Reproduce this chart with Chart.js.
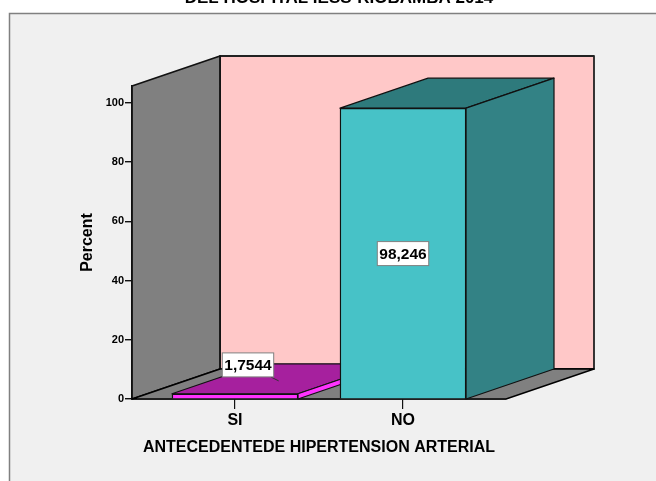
<!DOCTYPE html>
<html><head><meta charset="utf-8">
<style>html,body{margin:0;padding:0;background:#fff}canvas{display:block}</style>
<script src="https://cdn.jsdelivr.net/npm/chart.js@4"></script></head>
<body><div style="width:656px;height:481px"><canvas id="c" width="656" height="481"></canvas></div>
<script>
const categories = ['SI', 'NO'];
const percents = [1.7544, 98.246];
const valueLabels = ['1,7544', '98,246'];
const yTicks = [0, 20, 40, 60, 80, 100];
const chartTitle = 'DEL HOSPITAL IESS-RIOBAMBA 2014';
const yTitle = 'Percent';
const xTitle = 'ANTECEDENTEDE HIPERTENSION ARTERIAL';

const FONT = '"Liberation Sans", Arial, sans-serif';
const DX = 88, DY = -30;
const frontColors = ['#ff33ff', '#47c2c7'];
const topColors = ['#a6209e', '#2e7a7c'];
const sideColors = ['#ff33ff', '#338285'];
const labelOffsets = [[13, -31.5], [0, 0]];

function poly(ctx, pts, fill, stroke, lw) {
  ctx.beginPath();
  pts.forEach((p, i) => i ? ctx.lineTo(p[0], p[1]) : ctx.moveTo(p[0], p[1]));
  ctx.closePath();
  ctx.fillStyle = fill; ctx.fill();
  ctx.strokeStyle = stroke; ctx.lineWidth = lw; ctx.stroke();
}

const scene = {
  id: 'scene',
  afterLayout(chart) {
    chart.titleBlock.left = 0; chart.titleBlock.right = 678;
  },
  beforeDraw(chart) {
    const ctx = chart.ctx; ctx.save();
    ctx.fillStyle = '#f0f0f0'; ctx.fillRect(9, 13, 647, 468);
    ctx.strokeStyle = '#808080'; ctx.lineWidth = 1.5;
    ctx.beginPath(); ctx.moveTo(9.5, 481); ctx.lineTo(9.5, 13.5); ctx.lineTo(656, 13.5); ctx.stroke();
    ctx.restore();
  },
  beforeDatasetsDraw(chart) {
    const ctx = chart.ctx, a = chart.chartArea, ys = chart.scales.y;
    ctx.save(); ctx.lineJoin = 'round';
    const L = a.left, R = a.right, T = a.top, B = a.bottom;
    poly(ctx, [[L + DX, T + DY], [R + DX, T + DY], [R + DX, B + DY], [L + DX, B + DY]], '#ffc8c8', '#222', 1.8);
    poly(ctx, [[L, T], [L + DX, T + DY], [L + DX, B + DY], [L, B]], '#808080', '#111', 1.8);
    poly(ctx, [[L, B], [L + DX, B + DY], [R + DX, B + DY], [R, B]], '#808080', '#000', 1.4);
    chart.getDatasetMeta(0).data.forEach((bar, i) => {
      const x0 = bar.x - bar.width / 2, x1 = bar.x + bar.width / 2, y = bar.y, b = ys.getPixelForValue(0);
      poly(ctx, [[x0, y], [x0 + DX, y + DY], [x1 + DX, y + DY], [x1, y]], topColors[i], '#111', 1.2);
      poly(ctx, [[x1, y], [x1 + DX, y + DY], [x1 + DX, b + DY], [x1, b]], sideColors[i], '#111', 1.2);
    });
    ctx.restore();
  },
  afterDatasetsDraw(chart) {
    const ctx = chart.ctx, ys = chart.scales.y;
    ctx.save();
    ctx.font = 'bold 15.5px ' + FONT; ctx.textAlign = 'center'; ctx.textBaseline = 'middle';
    chart.getDatasetMeta(0).data.forEach((bar, i) => {
      const cx = bar.x + labelOffsets[i][0], cy = ys.getPixelForValue(percents[i] / 2) + labelOffsets[i][1];
      const w = ctx.measureText(valueLabels[i]).width + 4, h = 24;
      if (labelOffsets[i][0]) {
        ctx.strokeStyle = '#333'; ctx.lineWidth = 1;
        ctx.beginPath(); ctx.moveTo(cx + w / 2 - 3, cy + h / 2); ctx.lineTo(cx + w / 2 + 5, cy + h / 2 + 4); ctx.stroke();
      }
      ctx.fillStyle = '#fff'; ctx.fillRect(cx - w / 2, cy - h / 2, w, h);
      ctx.strokeStyle = '#808080'; ctx.lineWidth = 1; ctx.strokeRect(cx - w / 2, cy - h / 2, w, h);
      ctx.fillStyle = '#000'; ctx.fillText(valueLabels[i], cx, cy + 1);
    });
    ctx.restore();
  }
};

new Chart(document.getElementById('c'), {
  type: 'bar',
  data: { datasets: [{
    data: categories.map((c, i) => ({ x: i, y: percents[i] })),
    backgroundColor: frontColors, borderColor: '#111', borderWidth: 1.4, barThickness: 126
  }] },
  plugins: [scene],
  options: {
    responsive: false, animation: false,
    layout: { padding: { left: 78, right: 150, top: 0, bottom: 18 } },
    plugins: {
      legend: { display: false }, tooltip: { enabled: false },
      title: { display: true, text: chartTitle, color: '#000', align: 'center',
        font: { family: FONT, size: 17, weight: 'bold' }, padding: { top: -12.2, bottom: 77.8 } }
    },
    scales: {
      x: {
        type: 'linear', min: -0.613, max: 1.613, offset: false,
        afterFit(s) { s.height = 64; },
        afterBuildTicks(s) { s.ticks = categories.map((c, i) => ({ value: i })); },
        grid: { offset: false, drawOnChartArea: false, drawTicks: true, tickLength: 10, color: '#111', lineWidth: 1.2 },
        border: { color: '#111', width: 1.5 },
        ticks: { autoSkip: false, maxRotation: 0, color: '#000', padding: 2,
          font: { family: FONT, size: 16, weight: 'bold' }, callback: v => categories[v] },
        title: { display: true, text: xTitle, color: '#000', padding: { top: 8, bottom: 6 },
          font: { family: FONT, size: 16, weight: 'bold' } }
      },
      y: {
        min: 0, max: 105.74,
        afterFit(s) { s.width = 54; },
        afterBuildTicks(s) { s.ticks = yTicks.map(v => ({ value: v })); },
        grid: { drawOnChartArea: false, drawTicks: true, tickLength: 7, color: '#111', lineWidth: 1.4 },
        border: { color: '#111', width: 2 },
        ticks: { color: '#000', padding: 1, font: { family: FONT, size: 11, weight: 'bold' } },
        title: { display: true, text: yTitle, color: '#000', padding: 0,
          font: { family: FONT, size: 16, weight: 'bold' } }
      }
    }
  }
});
</script></body></html>
